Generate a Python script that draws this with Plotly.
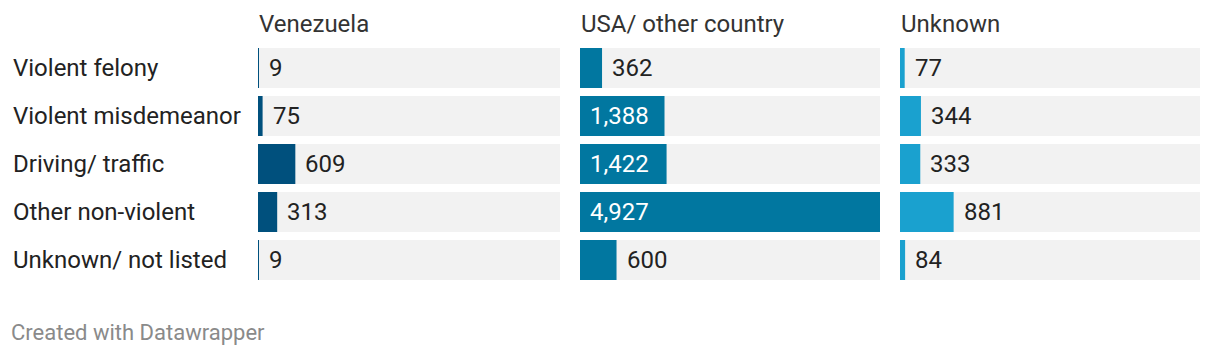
import plotly.graph_objects as go

categories = ["Violent felony", "Violent misdemeanor", "Driving/ traffic", "Other non-violent", "Unknown/ not listed"]
panels = ["Venezuela", "USA/ other country", "Unknown"]
venezuela = [9, 75, 609, 313, 9]
usa_other = [362, 1388, 1422, 4927, 600]
unknown = [77, 344, 333, 881, 84]
series = [venezuela, usa_other, unknown]
colors = ["#00507d", "#0177a0", "#1aa1cf"]

# page body has an 8px margin; work in reference pixel coords and shift
OFF = 8
W, H = 1220 - OFF, 356 - OFF
FONT = "Roboto"
FS = 24
vmax = max(max(s) for s in series)

panel_px = [(258, 560), (580, 880), (900, 1200)]
top_px, bot_px = 44, 284

def px_x(x):
    return (x - OFF) / W

def px_y(y):
    return (H - (y - OFF)) / H

fig = go.Figure()
annotations = []

def fmt(v):
    return f"{v:,}"

for i, (name, vals, col) in enumerate(zip(panels, series, colors)):
    xa = "x" if i == 0 else f"x{i+1}"
    ya = "y" if i == 0 else f"y{i+1}"
    fig.add_trace(go.Bar(x=[vmax] * len(categories), y=categories, orientation="h",
                         marker=dict(color="#f2f2f2", line=dict(width=0)),
                         xaxis=xa, yaxis=ya, hoverinfo="skip", showlegend=False))
    fig.add_trace(go.Bar(x=vals, y=categories, orientation="h",
                         marker=dict(color=col, line=dict(width=0)),
                         xaxis=xa, yaxis=ya, showlegend=False))
    x0, x1 = panel_px[i]
    layout_x = dict(domain=[px_x(x0), px_x(x1)], range=[0, vmax], visible=False, fixedrange=True)
    layout_y = dict(domain=[px_y(bot_px), px_y(top_px)], autorange="reversed",
                    visible=False, categoryorder="array", categoryarray=categories)
    if i > 0:
        layout_y["anchor"] = xa
        layout_x["anchor"] = ya
    fig.update_layout({("xaxis" if i == 0 else f"xaxis{i+1}"): layout_x,
                       ("yaxis" if i == 0 else f"yaxis{i+1}"): layout_y})
    annotations.append(dict(text=name, xref="paper", yref="paper", x=px_x(x0 - 1), y=px_y(24),
                            xanchor="left", yanchor="middle", showarrow=False,
                            font=dict(family=FONT, size=FS, color="#333333")))
    pw = x1 - x0
    for c, v in zip(categories, vals):
        label = fmt(v)
        bar_px = v / vmax * pw
        tw = sum(5 if ch == "," else 12.5 for ch in label)
        inside = bar_px > tw + 20
        if inside:
            annotations.append(dict(text=label, xref=xa, yref=ya, x=0, y=c, xshift=8,
                                    xanchor="left", yanchor="middle", showarrow=False,
                                    font=dict(family=FONT, size=FS, color="#ffffff")))
        else:
            annotations.append(dict(text=label, xref=xa, yref=ya, x=v, y=c, xshift=8,
                                    xanchor="left", yanchor="middle", showarrow=False,
                                    font=dict(family=FONT, size=FS, color="#222222")))

for c in categories:
    annotations.append(dict(text=c, xref="paper", yref="y", x=px_x(11), y=c,
                            xanchor="left", yanchor="middle", showarrow=False,
                            font=dict(family=FONT, size=FS, color="#222222")))

annotations.append(dict(text="Created with Datawrapper", xref="paper", yref="paper",
                        x=px_x(9), y=px_y(332), xanchor="left", yanchor="middle",
                        showarrow=False, font=dict(family=FONT, size=22, color="#8a8a8a")))

fig.update_layout(width=W, height=H, margin=dict(l=0, r=0, t=0, b=0),
                  paper_bgcolor="white", plot_bgcolor="white",
                  barmode="overlay", bargap=8 / 48, annotations=annotations,
                  font=dict(family=FONT))

fig.write_html("out.html")
